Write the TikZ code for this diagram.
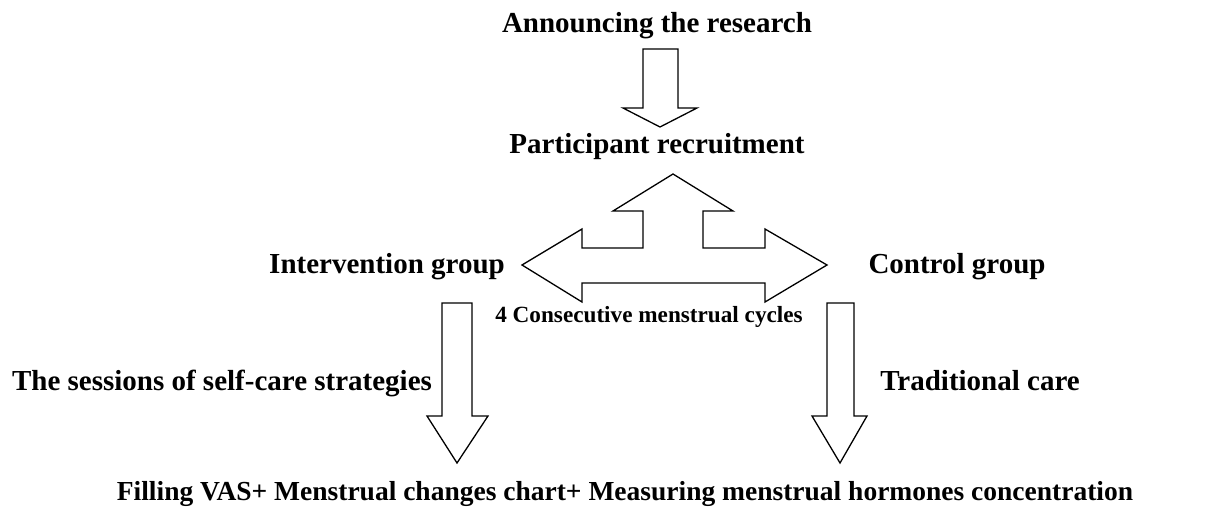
\documentclass[tikz,border=0pt]{standalone}
\usepackage{fontspec}
\setmainfont{Liberation Serif}
\tikzset{
	label/.style={font=\fontsize{29}{31}\selectfont\bfseries, inner sep=0pt, anchor=base},
	smalllabel/.style={font=\fontsize{23.2}{25}\selectfont\bfseries, inner sep=0pt, anchor=base},
	blockarrow/.style={draw, line width=1.3pt, line join=miter, fill=white}
}
\begin{document}
\begin{tikzpicture}[x=1pt,y=-1pt]
	\useasboundingbox (0,0) rectangle (1208,513);
	\node[label] (announce) at (657,33) {Announcing the research};
	\node[label] (recruit) at (657,154) {Participant recruitment};
	\node[label] (intervention) at (387,273) {Intervention group};
	\node[label] (control) at (957,273) {Control group};
	\node[smalllabel] (cycles) at (649,323) {4 Consecutive menstrual cycles};
	\node[label] (sessions) at (222,390) {The sessions of self-care strategies};
	\node[label] (traditional) at (980,390) {Traditional care};
	\node[label, font=\fontsize{27.5}{29}\selectfont\bfseries] (outcome) at (625,500) {Filling VAS+ Menstrual changes chart+ Measuring menstrual hormones concentration};
	% announcing -> recruitment
	\draw[blockarrow] (643,49) -- (678,49) -- (678,108) -- (697,108) -- (660,127) -- (623,108) -- (643,108) -- cycle;
	% recruitment -> both groups
	\draw[blockarrow] (673,174) -- (733,211) -- (703,211) -- (703,248) -- (765,248) -- (765,229) -- (827,265)
		-- (765,302) -- (765,283) -- (582,283) -- (582,302) -- (522,265) -- (582,229) -- (582,248)
		-- (643,248) -- (643,211) -- (613,211) -- cycle;
	% groups -> outcome
	\draw[blockarrow] (442,303) -- (472,303) -- (472,416) -- (488,416) -- (457,463) -- (427,416) -- (442,416) -- cycle;
	\draw[blockarrow] (827,303) -- (854,303) -- (854,416) -- (867,416) -- (840,463) -- (812,416) -- (827,416) -- cycle;
\end{tikzpicture}
\end{document}
